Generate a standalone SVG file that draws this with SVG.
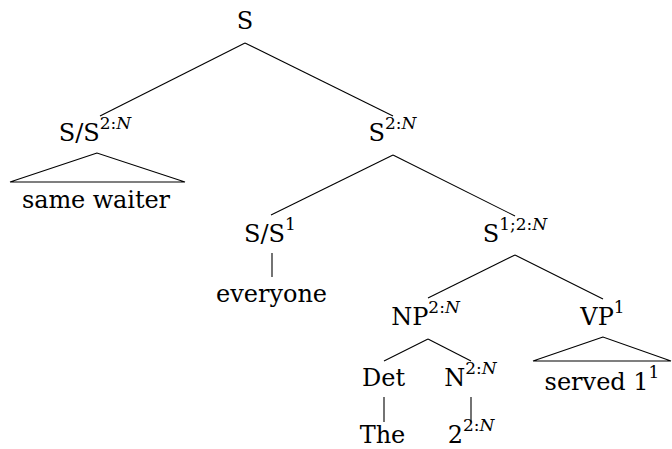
<svg xmlns="http://www.w3.org/2000/svg" width="672" height="449" viewBox="0 0 672 449">
<style>
text{font-family:"DejaVu Serif",serif;font-size:24px;fill:#000;text-anchor:middle}
.sup{font-size:17px}
.it{font-style:italic}
line,polyline,polygon{stroke:#000;stroke-width:1.1;fill:none}
</style>
<rect width="672" height="449" fill="#fff"/>
<g id="connectors">
<line x1="245" y1="43" x2="100" y2="116"/>
<line x1="245" y1="43" x2="393" y2="116"/>
<polygon points="97,153 10,182 185,182"/>
<line x1="393" y1="155" x2="271" y2="215"/>
<line x1="393" y1="155" x2="515" y2="216"/>
<line x1="272" y1="253" x2="272" y2="277"/>
<line x1="515" y1="255" x2="428" y2="298"/>
<line x1="515" y1="255" x2="603" y2="299"/>
<line x1="428" y1="339" x2="384" y2="361"/>
<line x1="428" y1="339" x2="471" y2="361"/>
<polygon points="603,337 533,361 671,361"/>
<line x1="384" y1="397" x2="384" y2="422"/>
<line x1="471" y1="397" x2="471" y2="422"/>
</g>
<g id="n-S"><text x="245" y="29">S</text></g>
<g id="n-SS2N"><text x="95" y="141">S/S<tspan class="sup" dy="-12">2:<tspan class="it">N</tspan></tspan></text></g>
<g id="n-samewaiter"><text x="96" y="208" textLength="148" lengthAdjust="spacing">same waiter</text></g>
<g id="n-S2N"><text x="392.5" y="141">S<tspan class="sup" dy="-12">2:<tspan class="it">N</tspan></tspan></text></g>
<g id="n-SS1"><text x="270" y="242">S/S<tspan class="sup" dy="-12">1</tspan></text></g>
<g id="n-everyone"><text x="271.5" y="302">everyone</text></g>
<g id="n-S12N"><text x="515" y="242">S<tspan class="sup" dy="-12">1;2:<tspan class="it">N</tspan></tspan></text></g>
<g id="n-NP"><text x="425.5" y="325">NP<tspan class="sup" dy="-12">2:<tspan class="it">N</tspan></tspan></text></g>
<g id="n-VP"><text x="602.5" y="325">VP<tspan class="sup" dy="-12">1</tspan></text></g>
<g id="n-served"><text x="602" y="390">served 1<tspan class="sup" dy="-12">1</tspan></text></g>
<g id="n-Det"><text x="383.5" y="386">Det</text></g>
<g id="n-N"><text x="470.5" y="386">N<tspan class="sup" dy="-12">2:<tspan class="it">N</tspan></tspan></text></g>
<g id="n-The"><text x="382.5" y="443">The</text></g>
<g id="n-2"><text x="471" y="443">2<tspan class="sup" dy="-12">2:<tspan class="it">N</tspan></tspan></text></g>
</svg>
